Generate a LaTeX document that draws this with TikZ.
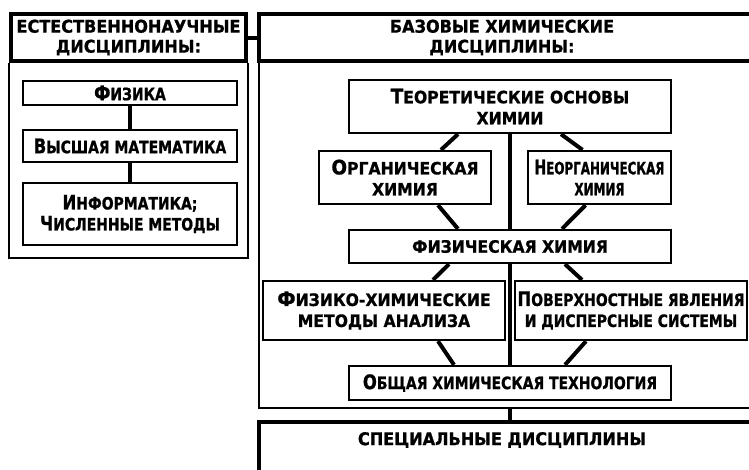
\documentclass[tikz,border=0pt]{standalone}
\usepackage{fontspec}
\setmainfont{DejaVu Sans}[FakeStretch=0.82, BoldFeatures={FakeBold=1}]
\newfontfamily\widefont{DejaVu Sans}[FakeStretch=0.92, BoldFeatures={FakeBold=1}]
\newfontfamily\thinfont{DejaVu Sans}[FakeStretch=0.70, BoldFeatures={FakeBold=1}]
\newcommand{\discsize}{\bfseries\fontsize{17pt}{21pt}\selectfont}
\tikzset{
    hdr/.style={font=\widefont\bfseries\fontsize{17.5pt}{20pt}\selectfont, align=center, inner sep=0pt},
    hdrline/.style={line width=4.2pt},
    frame/.style={line width=1.6pt},
    disc/.style={draw, line width=2.3pt, font=\discsize, align=center, inner sep=0pt},
    wide/.style={font=\widefont\discsize},
    thin/.style={font=\thinfont\discsize},
    link/.style={line width=4pt} }
\usetikzlibrary{calc}
\newcommand{\up}[1]{{\fontsize{20pt}{21pt}\selectfont #1}}

\begin{document}
\begin{tikzpicture}[x=1pt, y=-1pt]
			\useasboundingbox (0,0) rectangle (749,469);
			\clip (0,0) rectangle (749,469);
			% ---- left column
			\node[hdr, draw, hdrline, minimum width=235, minimum height=47] (lhead) at (128.5,37.5) {ЕСТЕСТВЕННОНАУЧНЫЕ\\ДИСЦИПЛИНЫ:};
			\draw[frame] (lhead.south west) -- ++(0,195) -| (lhead.south east);
			\node[disc, minimum width=214, minimum height=24] (fiz) at (130,93) {\up{Ф}ИЗИКА};
			\node[disc, minimum width=214, minimum height=32] (vyssh) at (130,146) {\up{В}ЫСШАЯ МАТЕМАТИКА};
			\node[disc, minimum width=214, minimum height=62] (inf) at (130,214) {\up{И}НФОРМАТИКА;\\\up{Ч}ИСЛЕННЫЕ МЕТОДЫ};
			\draw[link] (fiz) -- (vyssh);
			\draw[link] (vyssh) -- (inf);
			% ---- right column
			\node[hdr, minimum width=486, minimum height=47] (rhead) at (502,37.5) {БАЗОВЫЕ ХИМИЧЕСКИЕ\\ДИСЦИПЛИНЫ:};
			\draw[hdrline] ($(rhead.north east)+(80,0)$) -| (rhead.south west) -- ++(600,0);
			\coordinate (rbot) at (510,408);
			\draw[frame] (rhead.south west) -- (rhead.south west |- rbot) -- ++(600,0);
			\draw[link] (lhead.east) -- (rhead.west);
			\node[disc, wide, minimum width=322, minimum height=53] (teor) at (510,106.5) {\up{Т}ЕОРЕТИЧЕСКИЕ ОСНОВЫ\\ХИМИИ};
			\node[disc, wide, minimum width=172, minimum height=53] (org) at (405,177.5) {\up{О}РГАНИЧЕСКАЯ\\ХИМИЯ};
			\node[disc, thin, minimum width=143, minimum height=53] (neorg) at (599.5,177.5) {\up{Н}ЕОРГАНИЧЕСКАЯ\\ХИМИЯ};
			\node[disc, wide, minimum width=322, minimum height=33] (fh) at (510,246.5) {ФИЗИЧЕСКАЯ ХИМИЯ};
			\node[disc, wide, minimum width=242, minimum height=59] (fhm) at (384,310.5) {\up{Ф}ИЗИКО-ХИМИЧЕСКИЕ\\МЕТОДЫ АНАЛИЗА};
			\node[disc, minimum width=232, minimum height=59] (pov) at (631,310.5) {\up{П}ОВЕРХНОСТНЫЕ ЯВЛЕНИЯ\\И ДИСПЕРСНЫЕ СИСТЕМЫ};
			\node[disc, minimum width=322, minimum height=34] (oht) at (510,383) {\up{О}БЩАЯ ХИМИЧЕСКАЯ ТЕХНОЛОГИЯ};
			% ----
			\draw[link] (teor) -- (fh);
			\draw[link] (fh) -- (oht);
			\draw[link] ($(teor.south)+(-52,0)$) -- ($(org.north)+(36,0)$);
			\draw[link] ($(teor.south)+(51,0)$) -- ($(neorg.north)+(-17,0)$);
			\draw[link] ($(org.south)+(33,0)$) -- ($(fh.north)+(-52,0)$);
			\draw[link] ($(neorg.south)+(-14,0)$) -- ($(fh.north)+(52,0)$);
			\draw[link] ($(fh.south)+(-61,0)$) -- ($(fhm.north)+(49,0)$);
			\draw[link] ($(fh.south)+(55,0)$) -- ($(pov.north)+(-49,0)$);
			\draw[link] ($(fhm.south)+(54,0)$) -- ($(oht.north)+(-56,0)$);
			\draw[link] ($(pov.south)+(-45,0)$) -- ($(oht.north)+(55,0)$);
			% ---- special
			\node[hdr, minimum width=486, minimum height=36] (spec) at (502,440) {СПЕЦИАЛЬНЫЕ ДИСЦИПЛИНЫ};
			\draw[hdrline] ($(spec.north east)+(80,0)$) -| ($(spec.south west)+(0,40)$);
			\draw[link] (rbot) -- (rbot |- spec.north);
		\end{tikzpicture}
\end{document}
